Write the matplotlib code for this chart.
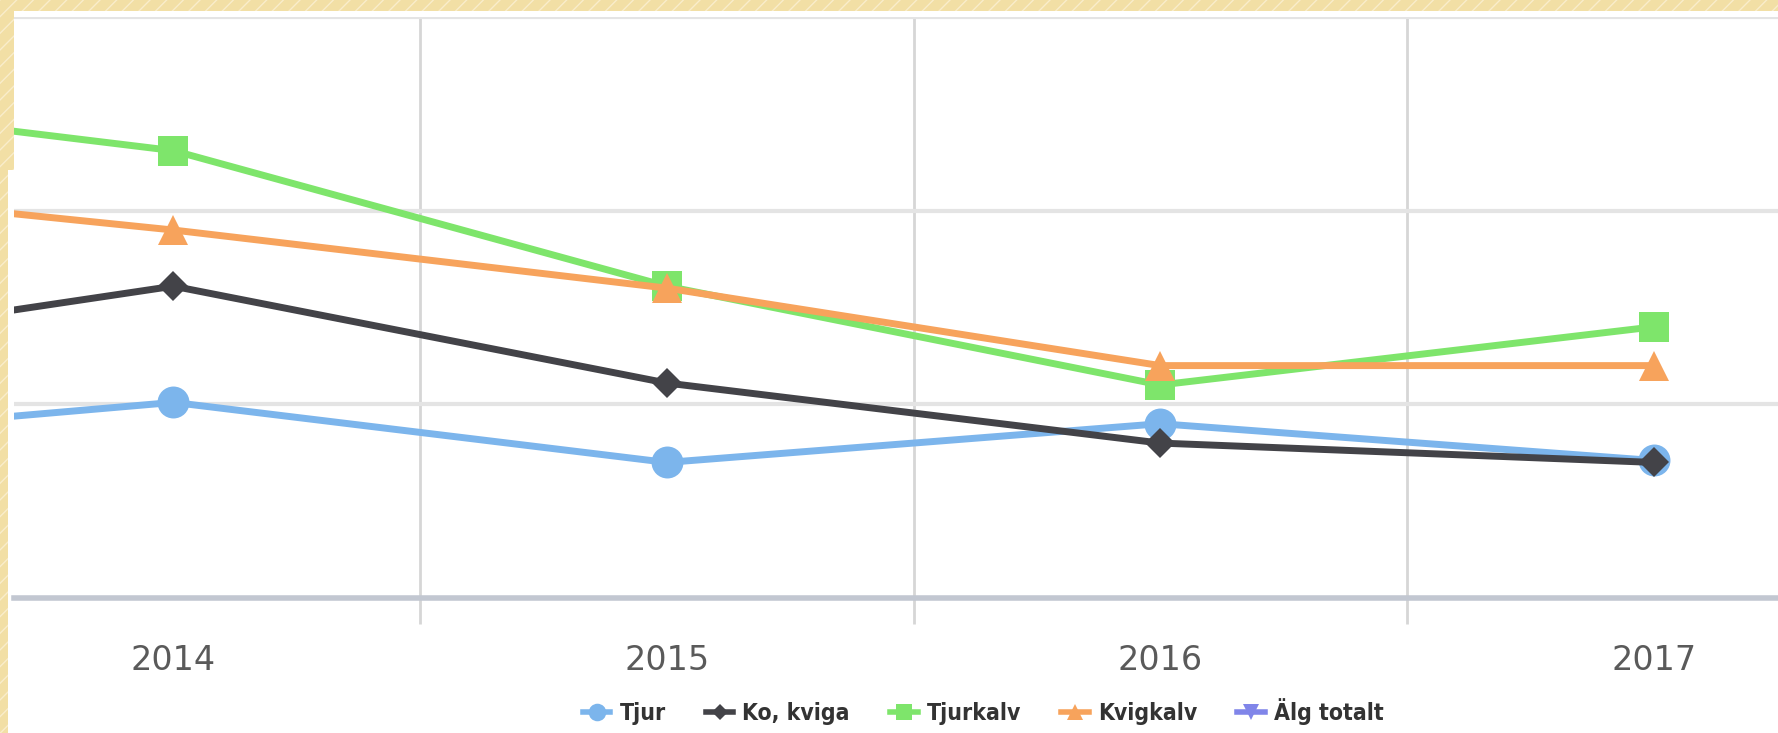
import matplotlib
matplotlib.use("Agg")
from matplotlib import pyplot as plt
from matplotlib.lines import Line2D
from matplotlib.patches import Rectangle
import numpy as np

# categories (2013 sits just outside the visible crop on the left)
years = [2013, 2014, 2015, 2016, 2017]
tjur = [7.9, 10.1, 7.0, 9.0, 7.1]
ko_kviga = [12.3, 16.1, 11.1, 8.0, 7.0]
tjurkalv = [26.2, 23.1, 16.1, 11.0, 14.0]
kvigkalv = [21.6, 19.0, 16.0, 12.0, 12.0]

tick_labels = ["2014", "2015", "2016", "2017"]

series = [
	("Tjur", tjur, "#7CB5EC", "o", 23),
	("Ko, kviga", ko_kviga, "#434348", "D", 15),
	("Tjurkalv", tjurkalv, "#7EE56B", "s", 22),
	("Kvigkalv", kvigkalv, "#F7A35C", "^", 22),
]

fig = plt.figure(figsize=(17.78, 7.33), dpi=100)
fig.patch.set_facecolor("white")

# beige hatched frame of the slide
top = Rectangle((0, 1 - 11/733), 1, 11/733, transform=fig.transFigure,
				facecolor="#F2DFA5", edgecolor="#F9EDCB", hatch="//", lw=0)
left1 = Rectangle((0, 1 - 170/733), 14/1778, 170/733, transform=fig.transFigure,
				facecolor="#F2DFA5", edgecolor="#F9EDCB", hatch="//", lw=0)
left2 = Rectangle((0, 0), 8/1778, 1, transform=fig.transFigure,
				facecolor="#F2DFA5", edgecolor="#F9EDCB", hatch="//", lw=0)
for p in (top, left1, left2):
	fig.patches.append(p)

ax = fig.add_axes([14/1778, (733-598)/733, 1 - 14/1778, (598-17)/733])
ax.set_facecolor("white")

x = np.arange(len(years)) - 1
for name, vals, col, mk, ms in series:
	ax.plot(x, vals, color=col, lw=5, marker=mk, markersize=ms,
			markeredgewidth=0, label=name, zorder=3, clip_on=True)

ax.set_xlim(-0.323, 3.252)
ax.set_ylim(0, 30)

# horizontal gridlines
ax.set_yticks([10, 20, 30])
ax.yaxis.grid(True, color="#E4E4E4", lw=3)
ax.tick_params(axis="y", left=False, labelleft=False)

# category boundaries as vertical gridlines with ticks below the axis
ax.set_xticks([0, 1, 2, 3])
ax.set_xticklabels(tick_labels)
ax.set_xticks([0.5, 1.5, 2.5], minor=True)
ax.xaxis.grid(True, which="minor", color="#D6D6D6", lw=2)
ax.tick_params(axis="x", which="major", length=0, pad=33, labelsize=24,
			   labelcolor="#5A5A5A")
ax.tick_params(axis="x", which="minor", length=19, width=2, color="#D6D6D6")
for lab in ax.get_xticklabels():
	lab.set_fontfamily("DejaVu Sans")

for s in ("top", "right", "left"):
	ax.spines[s].set_visible(False)
ax.spines["bottom"].set_color("#C2C7D1")
ax.spines["bottom"].set_linewidth(4)
ax.set_axisbelow(True)

handles = [Line2D([], [], color=col, lw=4, marker=mk, markersize=ms*0.55,
				  markeredgewidth=0) for _, _, col, mk, ms in series]
handles.append(Line2D([], [], color="#8085E9", lw=4, marker="v", markersize=11,
					  markeredgewidth=0))
labels = [s[0] for s in series] + ["Älg totalt"]
fig.legend(handles, labels, loc="center", bbox_to_anchor=(0.553, 0.029),
		   ncol=5, frameon=False, handlelength=1.2, handletextpad=0.4,
		   columnspacing=1.75, labelcolor="#333333",
		   prop={"family": ["DejaVu Sans"], "stretch": "condensed",
				 "weight": "bold", "size": 16.5})

fig.savefig("out.png", dpi=100)
